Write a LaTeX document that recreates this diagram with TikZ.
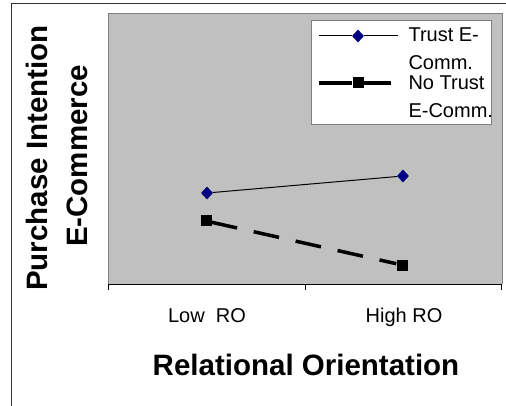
\documentclass[tikz,border=0pt]{standalone}
\usepackage{fontspec}
\setmainfont{Liberation Sans}
\usetikzlibrary{shapes.geometric}

\definecolor{plotgray}{HTML}{C0C0C0}
\definecolor{framegray}{HTML}{808080}
\definecolor{trustblue}{HTML}{000080}

\tikzset{
  trustmark/.style={diamond, fill=trustblue, inner sep=0pt, minimum width=12pt, minimum height=13pt},
  notrustmark/.style={rectangle, fill=black, inner sep=0pt, minimum size=11pt},
  trustline/.style={black, line width=1pt},
  notrustline/.style={black, line width=3.5pt, dash pattern=on 26pt off 17pt},
  ticklabel/.style={font=\fontsize{20}{24}\selectfont},
  axistitle/.style={font=\fontsize{29.5}{34}\selectfont\bfseries},
  legendtext/.style={font=\fontsize{20}{28}\selectfont, align=left, anchor=base west}
}

\begin{document}
\begin{tikzpicture}[x=1pt, y=-1pt]
    \useasboundingbox (0,0) rectangle (506,406);
    % outer frame
    \draw[line width=1pt, black!80] (11,406) -- (11,4) -- (506,4);
    % plot area
    \fill[plotgray] (108,14) rectangle (502,284);
    \draw[framegray, line width=1pt] (108,284) -- (108,14) -- (502,14) -- (502,284);
    \draw[black, line width=1pt] (108,284) -- (502,284);
    \foreach \x in {108,305,501}
        \draw[black, line width=1pt] (\x,284) -- (\x,290);

    % data
    \node[trustmark] (tlow) at (207,193) {};
    \node[trustmark] (thigh) at (403,176) {};
    \node[notrustmark] (nlow) at (206,221) {};
    \node[notrustmark] (nhigh) at (402,265) {};
    \draw[trustline] (tlow) -- (thigh);
    \draw[notrustline] (nlow) -- (nhigh);

    % legend
    \node[draw=framegray, fill=white, line width=1pt, anchor=north west,
          minimum width=180pt, minimum height=104pt] (legend) at (311,20) {};
    \coordinate (tkeyl) at (319,36);
    \coordinate (tkeyr) at (398,36);
    \node[trustmark] (tkey) at (358,36) {};
    \draw[trustline] (tkeyl) -- (tkey) -- (tkeyr);
    \coordinate (nkeyl) at (319,83);
    \coordinate (nkeyr) at (391,83);
    \node[notrustmark] (nkey) at (358,83) {};
    \draw[black, line width=3.5pt] (nkeyl) -- (nkey) -- (nkeyr);
    \node[legendtext] (tkeytext) at (405,70) {Trust E-\\Comm.};
    \node[legendtext] (nkeytext) at (405,118) {No Trust\\E-Comm.};

    % axis labels
    \node[ticklabel, anchor=base] (lowlab) at (207,322) {Low\ \ RO};
    \node[ticklabel, anchor=base] (highlab) at (404,322) {High RO};
    \node[axistitle, anchor=base] (xtitle) at (306,375) {Relational Orientation};
    \node[axistitle, rotate=90, anchor=base] (ytitlea) at (47,158) {Purchase Intention};
    \node[axistitle, rotate=90, anchor=base] (ytitleb) at (87,156) {E-Commerce};
\end{tikzpicture}
\end{document}
